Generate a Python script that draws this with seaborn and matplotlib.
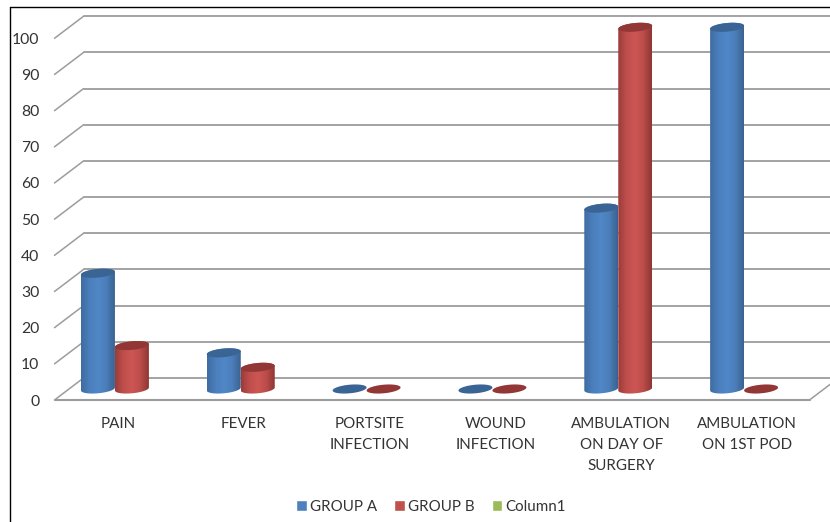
import numpy as np
import pandas as pd
import matplotlib
matplotlib.use("Agg")
import matplotlib.pyplot as plt
from matplotlib.colors import LinearSegmentedColormap
from matplotlib.lines import Line2D
from matplotlib.patches import PathPatch, Polygon
from matplotlib.path import Path
from matplotlib.transforms import Affine2D
import seaborn as sns

categories = ["PAIN", "FEVER", "PORTSITE\nINFECTION", "WOUND\nINFECTION",
              "AMBULATION\nON DAY OF\nSURGERY", "AMBULATION\nON 1ST POD"]
group_a = [32, 10, 0, 0, 50, 100]
group_b = [12, 6, 0, 0, 100, 0]
column1 = [np.nan] * 6
series_names = ["GROUP A", "GROUP B", "Column1"]
y_ticks = list(range(0, 101, 10))

W, H = 830, 522
sns.set_theme(style="white")
plt.rcParams["font.family"] = ["Lato", "DejaVu Sans"]
TEXT = "#333333"
GRID = "#9c9c9c"

fig = plt.figure(figsize=(W / 100, H / 100), dpi=100, facecolor="white")

# The axes is the mid-depth plane of the 3D box: value 0 at y=389px, 100 at y=27.3px.
px_per_unit = (389 - 27.3) / 100
y_lo, y_hi = -4, 3 + 100
left, right = 69, 824
top_px = 389 - y_hi * px_per_unit
bot_px = 389 - y_lo * px_per_unit
ax = fig.add_axes([left / W, 1 - bot_px / H, (right - left) / W, (bot_px - top_px) / H])
ax.patch.set_alpha(0)

table = pd.DataFrame({
    "category": categories * 3,
    "series": np.repeat(series_names, 6),
    "value": group_a + group_b + column1,
})
palette = dict(zip(series_names, ["#4f81bd", "#c0504d", "#9bbb59"]))
sns.barplot(data=table, x="category", y="value", hue="series", hue_order=series_names,
            order=categories, palette=palette, width=0.81, saturation=1,
            errorbar=None, ax=ax, zorder=3)

ax.set_xlim(-0.5, 5.5)
ax.set_ylim(y_lo, y_hi)
ax.set_xlabel("")
ax.set_ylabel("")
for s in ax.spines.values():
    s.set_visible(False)

# Depth offsets in pixels; display y grows upward.
DX, DY = 14.5, 11
to_back = ax.transData + Affine2D().translate(DX, DY)
to_front = ax.transData + Affine2D().translate(-DX, -DY)

# Back wall gridlines and the slanted side-wall lines
for v in y_ticks:
    ax.plot([-0.5, 5.5], [v, v], transform=to_back, color=GRID, lw=1.3, clip_on=False, zorder=1)
    xy0 = to_front.transform((-0.5, v))
    xy1 = to_back.transform((-0.5, v))
    ax.add_line(Line2D([xy0[0], xy1[0]], [xy0[1], xy1[1]], transform=None, color=GRID,
                       lw=1.1, clip_on=False, zorder=1))
# Floor: front edge and right edge
ax.plot([-0.5, 5.5], [0, 0], transform=to_front, color=GRID, lw=1.5, clip_on=False, zorder=1)
xy0 = to_front.transform((5.5, 0))
xy1 = to_back.transform((5.5, 0))
ax.add_line(Line2D([xy0[0], xy1[0]], [xy0[1], xy1[1]], transform=None, color=GRID,
                   lw=1.1, clip_on=False, zorder=1))

# Tick labels sit on the front plane
ax.set_yticks(y_ticks)
ax.tick_params(axis="both", length=0)
ax.tick_params(axis="y", pad=21.5, labelsize=11.3, labelcolor=TEXT)
ax.tick_params(axis="x", pad=10, labelsize=10.9, labelcolor=TEXT)
fig.canvas.draw()
for lab in ax.get_yticklabels():
    lab.set_transform(lab.get_transform() + Affine2D().translate(0, -DY))
for lab in ax.get_xticklabels():
    lab.set_transform(lab.get_transform() + Affine2D().translate(-14, 0))
    lab.set_linespacing(1.62)
    lab.set_verticalalignment("top")

# Cylinder shading
b_px, s_px = 4.3, 1.5
b_unit, s_unit = b_px / px_per_unit, s_px / px_per_unit
shades = {
    "GROUP A": (["#3f6ca2", "#4b7fbc", "#5087c8", "#4b7eb9", "#3a6393"], "#3a6494"),
    "GROUP B": (["#9a3c3a", "#bf4f4c", "#cc5653", "#bc4d4a", "#8f3634"], "#923735"),
}
theta = np.linspace(0, 2 * np.pi, 60)


def ellipse_y(yc, t):
    return yc + b_unit * np.sin(t) + s_unit * np.cos(t)


for name, container in zip(series_names, ax.containers):
    if name not in shades:
        continue
    stops, cap_color = shades[name]
    cmap = LinearSegmentedColormap.from_list(name, stops)
    for bar in container:
        x0, w, h = bar.get_x(), bar.get_width(), bar.get_height()
        if not np.isfinite(h):
            continue
        xc = x0 + w / 2
        xe = xc + w / 2 * np.cos(theta)
        if h > 0:
            t_low = np.linspace(np.pi, 2 * np.pi, 30)
            t_up = np.linspace(0, np.pi, 30)
            verts = np.vstack([
                np.column_stack([xc + w / 2 * np.cos(t_low), ellipse_y(0, t_low)]),
                np.column_stack([xc + w / 2 * np.cos(t_up), ellipse_y(h, t_up)]),
            ])
            body = PathPatch(Path(np.vstack([verts, verts[:1]])), transform=ax.transData,
                             fc="none", ec="none", zorder=3)
            ax.add_patch(body)
            img = ax.imshow(np.linspace(0, 1, 64)[None, :], cmap=cmap, aspect="auto",
                            extent=(x0, x0 + w, -3.9, h + 3), zorder=3.2)
            img.set_clip_path(body)
        ax.add_patch(Polygon(np.column_stack([xe, ellipse_y(h, theta)]), closed=True,
                             fc=cap_color, ec="none", zorder=3.4))
        bar.set_visible(False)

ax.set_xlim(-0.5, 5.5)
ax.set_ylim(y_lo, y_hi)

# Legend below the plot
sns.move_legend(ax, loc="center", bbox_to_anchor=(431 / W, 1 - 507 / H),
                bbox_transform=fig.transFigure, ncol=3, frameon=False, title=None,
                fontsize=10.9, labelcolor=TEXT, handlelength=0.68, handleheight=0.68,
                handletextpad=0.2, columnspacing=1.15)

# Outer frame on the top and left edges
fig.add_artist(Line2D([10 / W, 10 / W], [0, 1 - 7 / H], transform=fig.transFigure, color="black", lw=1.0))
fig.add_artist(Line2D([10 / W, 1], [1 - 7 / H, 1 - 7 / H], transform=fig.transFigure, color="black", lw=1.0))

fig.savefig("out.png", dpi=100, facecolor="white")
